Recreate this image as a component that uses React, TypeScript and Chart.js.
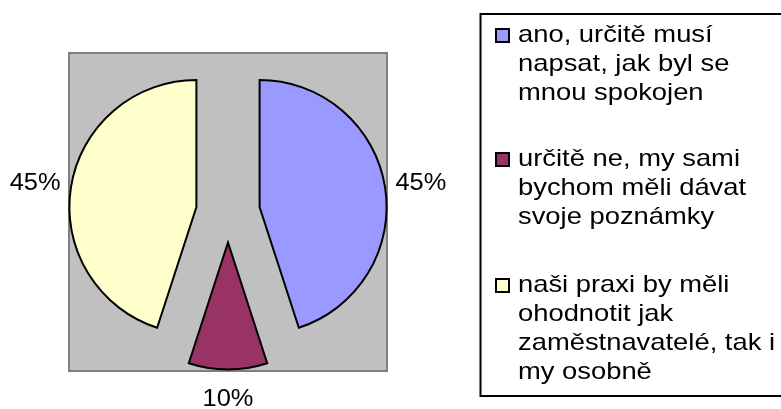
import React, { useEffect, useRef } from "react";
import { Chart, registerables } from "chart.js";

Chart.register(...registerables);

// ---- data ----
const categories: string[][] = [
  ["ano, určitě musí", "napsat, jak byl se", "mnou spokojen"],
  ["určitě ne, my sami", "bychom měli dávat", "svoje poznámky"],
  ["naši praxi by měli", "ohodnotit jak", "zaměstnavatelé, tak i", "my osobně"],
];
const values: number[] = [45, 10, 45];
const sliceColors: string[] = ["#9999FF", "#993366", "#FFFFCC"];
const explode: number[] = [32, 30.5, 32];

const FONT = "24px 'Liberation Sans', Arial, sans-serif";
const LEGEND_STRETCH = 1.14;
const LABEL_STRETCH = 1.06;

// Explode slices by moving each arc's centre along its bisector (keeps straight radial edges and equal radii).
const explodeSlices = {
  id: "explodeSlices",
  afterDatasetUpdate(chart: any, args: any) {
    args.meta.data.forEach((arc: any, i: number) => {
      const mid = (arc.startAngle + arc.endAngle) / 2;
      arc.x = arc.x + Math.cos(mid) * explode[i];
      arc.y = arc.y + Math.sin(mid) * explode[i];
    });
  },
};

const plotBackground = {
  id: "plotBackground",
  beforeDraw(chart: any) {
    const { ctx, chartArea: a } = chart;
    ctx.save();
    ctx.fillStyle = "#C0C0C0";
    ctx.fillRect(a.left, a.top, a.right - a.left, a.bottom - a.top);
    ctx.strokeStyle = "#808080";
    ctx.lineWidth = 2;
    ctx.strokeRect(a.left, a.top, a.right - a.left, a.bottom - a.top);
    ctx.restore();
  },
};

const percentLabels = {
  id: "percentLabels",
  afterDatasetsDraw(chart: any) {
    const { ctx } = chart;
    const meta = chart.getDatasetMeta(0);
    const total = values.reduce((s, v) => s + v, 0);
    ctx.save();
    ctx.font = FONT;
    ctx.fillStyle = "#000000";
    ctx.textAlign = "center";
    ctx.textBaseline = "alphabetic";
    meta.data.forEach((arc: any, i: number) => {
      const p = arc.getProps(["x", "y", "startAngle", "endAngle", "outerRadius"], true);
      const mid = (p.startAngle + p.endAngle) / 2;
      const text = Math.round((values[i] / total) * 100) + "%";
      const w = ctx.measureText(text).width * LABEL_STRETCH;
      const d = p.outerRadius + 8 + (w / 2) * Math.abs(Math.cos(mid)) + 20 * Math.abs(Math.sin(mid));
      const lx = p.x + Math.cos(mid) * d;
      const ly = p.y + Math.sin(mid) * d;
      ctx.save();
      ctx.translate(lx, ly + 0.358 * 24);
      ctx.scale(LABEL_STRETCH, 1);
      ctx.fillText(text, 0, 0);
      ctx.restore();
    });
    ctx.restore();
  },
};

const legendBox = {
  id: "legendBox",
  afterDraw(chart: any) {
    const { ctx } = chart;
    const labels: string[][] = chart.data.labels;
    const colors: string[] = chart.data.datasets[0].backgroundColor;
    ctx.save();
    ctx.strokeStyle = "#000000";
    ctx.lineWidth = 2;
    ctx.strokeRect(480.5, 14, 400, 382);
    const groupStarts = [42, 166, 292];
    const pitch = 29;
    ctx.font = FONT;
    ctx.textAlign = "left";
    ctx.textBaseline = "alphabetic";
    labels.forEach((lines, i) => {
      const base = groupStarts[i];
      ctx.fillStyle = colors[i];
      ctx.fillRect(496, base - 13, 13, 13);
      ctx.lineWidth = 2;
      ctx.strokeStyle = "#000000";
      ctx.strokeRect(496, base - 13, 13, 13);
      ctx.fillStyle = "#000000";
      lines.forEach((ln, j) => {
        ctx.save();
        ctx.translate(518, base + j * pitch);
        ctx.scale(LEGEND_STRETCH, 1);
        ctx.fillText(ln, 0, 0);
        ctx.restore();
      });
    });
    ctx.restore();
  },
};

export default function App() {
  const ref = useRef<HTMLCanvasElement>(null);
  useEffect(() => {
    if (!ref.current) return;
    const chart = new Chart(ref.current, {
      type: "pie",
      data: {
        labels: categories as any,
        datasets: [
          {
            data: values,
            backgroundColor: sliceColors,
            borderColor: "#000000",
            borderWidth: 2,
            borderJoinStyle: "miter",
            radius: 127,
            clip: false,
          } as any,
        ],
      },
      options: {
        responsive: false,
        animation: false,
        devicePixelRatio: 1,
        layout: { padding: { left: 69, top: 53, right: 394, bottom: 38 } },
        plugins: {
          legend: { display: false },
          tooltip: { enabled: false },
          title: { display: false },
        },
        events: [],
      },
      plugins: [explodeSlices, plotBackground, percentLabels, legendBox],
    });
    return () => chart.destroy();
  }, []);
  return (
    <div style={{ position: "absolute", left: 0, top: 0, width: 781, height: 409, background: "#ffffff" }}>
      <canvas ref={ref} width={781} height={409} style={{ width: 781, height: 409, display: "block" }} />
    </div>
  );
}
